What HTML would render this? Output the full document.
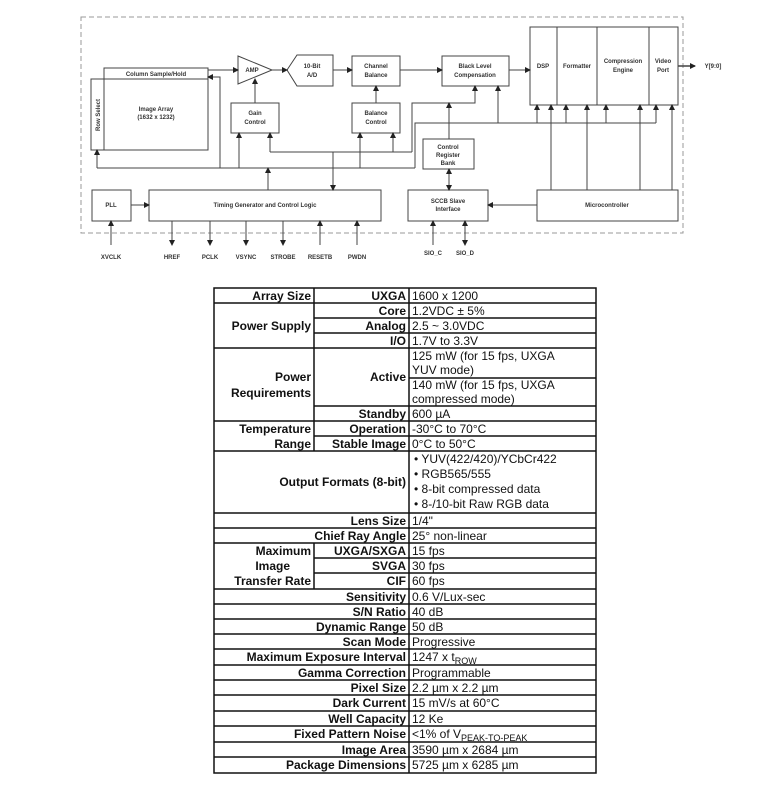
<!DOCTYPE html>
<html><head><meta charset="utf-8"><style>
body{margin:0;background:#fff;width:784px;height:791px;overflow:hidden}
svg{position:absolute;left:0;top:0}
.d text{font-family:"Liberation Sans",sans-serif;font-weight:bold;font-size:6px;fill:#333;text-anchor:middle}
.t text{font-family:"Liberation Sans",sans-serif;font-size:12px;fill:#111}
.t .b{font-weight:bold;text-anchor:end}
</style></head><body>
<svg width="784" height="791" viewBox="0 0 784 791">
<defs><marker id="a" markerWidth="6" markerHeight="6" refX="5" refY="3" orient="auto" markerUnits="userSpaceOnUse"><path d="M0,0L6,3L0,6z" fill="#222"/></marker>
<marker id="s" markerWidth="6" markerHeight="6" refX="1" refY="3" orient="auto" markerUnits="userSpaceOnUse"><path d="M6,0L0,3L6,6z" fill="#222"/></marker></defs>
<g class="d" stroke="#444" stroke-width="1" fill="none">
<rect x="81" y="17" width="602" height="216" stroke="#999" stroke-dasharray="5,3"/>
<rect x="104" y="68" width="104" height="82" fill="#fff"/>
<line x1="104" y1="79" x2="208" y2="79"/>
<rect x="91" y="79" width="13" height="71"/>
<path d="M238,56L272,70L238,84z"/>
<path d="M287,70L297,55L333,55L333,86L297,86z"/>
<rect x="352" y="56" width="48" height="30"/>
<rect x="231" y="103" width="48" height="30"/>
<rect x="352" y="103" width="48" height="30"/>
<rect x="92" y="190" width="39" height="31"/>
<rect x="149" y="190" width="232" height="31"/>
<rect x="442" y="56" width="67" height="30"/>
<rect x="530" y="27" width="148" height="78"/>
<line x1="557" y1="27" x2="557" y2="105"/><line x1="597" y1="27" x2="597" y2="105"/><line x1="649" y1="27" x2="649" y2="105"/>
<rect x="423" y="139" width="51" height="30"/>
<rect x="408" y="190" width="80" height="31"/>
<rect x="537" y="190" width="141" height="31"/>
<g marker-end="url(#a)">
<line x1="208" y1="70" x2="238" y2="70"/><line x1="272" y1="70" x2="287" y2="70"/>
<line x1="333" y1="70" x2="352" y2="70"/><line x1="400" y1="70" x2="442" y2="70"/>
<line x1="509" y1="70" x2="530" y2="70"/><line x1="678" y1="66" x2="695" y2="66" stroke-width="1.5"/>
<line x1="255" y1="103" x2="255" y2="79"/><line x1="376" y1="103" x2="376" y2="86"/>
<polyline points="270,152 270,133"/><polyline points="393,152 393,133"/>
<polyline points="412,152 412,103 475,103 475,86"/>
<line x1="333" y1="152" x2="333" y2="190"/>
<line x1="270" y1="152" x2="412" y2="152" marker-end="none"/>
<polyline points="97,168 97,150"/><polyline points="220,168 220,77 208,77"/>
<line x1="239" y1="168" x2="239" y2="133"/><line x1="360" y1="168" x2="360" y2="133"/>
<line x1="268" y1="190" x2="268" y2="168"/>
<line x1="97" y1="168" x2="415" y2="168" marker-end="none"/>
<polyline points="415,168 415,123 656,123" marker-end="none"/>
<line x1="498" y1="123" x2="498" y2="86"/>
<line x1="537" y1="123" x2="537" y2="105"/><line x1="566" y1="123" x2="566" y2="105"/>
<line x1="606" y1="123" x2="606" y2="105"/><line x1="656" y1="123" x2="656" y2="105"/>
<line x1="449" y1="139" x2="449" y2="103"/>
<line x1="449" y1="169" x2="449" y2="190" marker-start="url(#s)"/>
<line x1="551" y1="190" x2="551" y2="105"/><line x1="587" y1="190" x2="587" y2="105"/>
<line x1="640" y1="190" x2="640" y2="105"/><line x1="672" y1="190" x2="672" y2="105"/>
<line x1="537" y1="205" x2="488" y2="205"/><line x1="131" y1="205" x2="149" y2="205"/>
<line x1="111" y1="245" x2="111" y2="221"/><line x1="320" y1="245" x2="320" y2="221"/><line x1="357" y1="245" x2="357" y2="221"/>
<line x1="172" y1="221" x2="172" y2="245"/><line x1="210" y1="221" x2="210" y2="245"/>
<line x1="246" y1="221" x2="246" y2="245"/><line x1="283" y1="221" x2="283" y2="245"/>
<line x1="433" y1="245" x2="433" y2="221"/>
<line x1="465" y1="221" x2="465" y2="245" marker-start="url(#s)"/>
</g>
</g>
<g class="d" stroke="none">
<text x="156" y="76">Column Sample/Hold</text>
<text x="156" y="111">Image Array</text><text x="156" y="119">(1632 x 1232)</text>
<text x="0" y="0" transform="translate(100,115) rotate(-90)">Row Select</text>
<text x="252" y="72">AMP</text>
<text x="312" y="68">10-Bit</text><text x="312" y="77">A/D</text>
<text x="376" y="68">Channel</text><text x="376" y="77">Balance</text>
<text x="255" y="115">Gain</text><text x="255" y="124">Control</text>
<text x="376" y="115">Balance</text><text x="376" y="124">Control</text>
<text x="475" y="68">Black Level</text><text x="475" y="77">Compensation</text>
<text x="543" y="68">DSP</text><text x="577" y="68">Formatter</text>
<text x="623" y="63">Compression</text><text x="623" y="72">Engine</text>
<text x="663" y="63">Video</text><text x="663" y="72">Port</text>
<text x="713" y="68">Y[9:0]</text>
<text x="448" y="149">Control</text><text x="448" y="157">Register</text><text x="448" y="165">Bank</text>
<text x="448" y="203">SCCB Slave</text><text x="448" y="211">Interface</text>
<text x="607" y="207">Microcontroller</text>
<text x="111" y="207">PLL</text>
<text x="265" y="207">Timing Generator and Control Logic</text>
<text x="111" y="259">XVCLK</text><text x="172" y="259">HREF</text><text x="210" y="259">PCLK</text>
<text x="246" y="259">VSYNC</text><text x="283" y="259">STROBE</text><text x="320" y="259">RESETB</text>
<text x="357" y="259">PWDN</text>
<text x="433" y="255">SIO_C</text><text x="465" y="255">SIO_D</text>
</g>
<g class="t">
<g stroke="#111" stroke-width="1.5" fill="none">
<rect x="214" y="288" width="382" height="485"/>
<line x1="409" y1="288" x2="409" y2="773"/>
<line x1="314" y1="288" x2="314" y2="451"/><line x1="314" y1="543" x2="314" y2="589"/>
<path d="M214,303H596M314,318H596M314,333H596M214,348H596M409,378H596M314,406H596M214,421H596M314,436H596M214,451H596M214,513H596M214,528H596M214,543H596M314,558H596M314,573H596M214,589H596M214,604H596M214,619H596M214,634H596M214,649H596M214,665H596M214,680H596M214,695H596M214,711H596M214,726H596M214,742H596M214,757H596"/>
</g>
<text class="b" x="311" y="300">Array Size</text><text class="b" x="406" y="300">UXGA</text><text x="412" y="300">1600 x 1200</text>
<text class="b" x="406" y="315">Core</text><text x="412" y="315">1.2VDC ± 5%</text>
<text class="b" x="311" y="330">Power Supply</text>
<text class="b" x="406" y="330">Analog</text><text x="412" y="330">2.5 ~ 3.0VDC</text>
<text class="b" x="406" y="345">I/O</text><text x="412" y="345">1.7V to 3.3V</text>
<text class="b" x="311" y="381">Power</text><text class="b" x="311" y="397">Requirements</text>
<text class="b" x="406" y="381">Active</text>
<text x="412" y="360">125 mW (for 15 fps, UXGA</text><text x="412" y="374">YUV mode)</text>
<text x="412" y="389">140 mW (for 15 fps, UXGA</text><text x="412" y="403">compressed mode)</text>
<text class="b" x="406" y="418">Standby</text><text x="412" y="418">600 µA</text>
<text class="b" x="311" y="433">Temperature</text><text class="b" x="311" y="448">Range</text>
<text class="b" x="406" y="433">Operation</text><text x="412" y="433">-30°C to 70°C</text>
<text class="b" x="406" y="448">Stable Image</text><text x="412" y="448">0°C to 50°C</text>
<text class="b" x="406" y="486">Output Formats (8-bit)</text>
<text x="414" y="463">•  YUV(422/420)/YCbCr422</text><text x="414" y="478">•  RGB565/555</text>
<text x="414" y="493">•  8-bit compressed data</text><text x="414" y="508">•  8-/10-bit Raw RGB data</text>
<text class="b" x="406" y="525">Lens Size</text><text x="412" y="525">1/4"</text>
<text class="b" x="406" y="540">Chief Ray Angle</text><text x="412" y="540">25° non-linear</text>
<text class="b" x="311" y="555">Maximum</text><text class="b" x="290" y="570">Image</text><text class="b" x="311" y="585">Transfer Rate</text>
<text class="b" x="406" y="555">UXGA/SXGA</text><text x="412" y="555">15 fps</text>
<text class="b" x="406" y="570">SVGA</text><text x="412" y="570">30 fps</text>
<text class="b" x="406" y="585">CIF</text><text x="412" y="585">60 fps</text>
<text class="b" x="406" y="601">Sensitivity</text><text x="412" y="601">0.6 V/Lux-sec</text>
<text class="b" x="406" y="616">S/N Ratio</text><text x="412" y="616">40 dB</text>
<text class="b" x="406" y="631">Dynamic Range</text><text x="412" y="631">50 dB</text>
<text class="b" x="406" y="646">Scan Mode</text><text x="412" y="646">Progressive</text>
<text class="b" x="406" y="661">Maximum Exposure Interval</text><text x="412" y="661">1247 x t<tspan font-size="9" dy="3">ROW</tspan></text>
<text class="b" x="406" y="677">Gamma Correction</text><text x="412" y="677">Programmable</text>
<text class="b" x="406" y="692">Pixel Size</text><text x="412" y="692">2.2 µm x 2.2 µm</text>
<text class="b" x="406" y="707">Dark Current</text><text x="412" y="707">15 mV/s at 60°C</text>
<text class="b" x="406" y="723">Well Capacity</text><text x="412" y="723">12 Ke</text>
<text class="b" x="406" y="738">Fixed Pattern Noise</text><text x="412" y="738">&lt;1% of V<tspan font-size="9" dy="3">PEAK-TO-PEAK</tspan></text>
<text class="b" x="406" y="754">Image Area</text><text x="412" y="754">3590 µm x 2684 µm</text>
<text class="b" x="406" y="769">Package Dimensions</text><text x="412" y="769">5725 µm x 6285 µm</text>
</g>
</svg>
</body></html>
